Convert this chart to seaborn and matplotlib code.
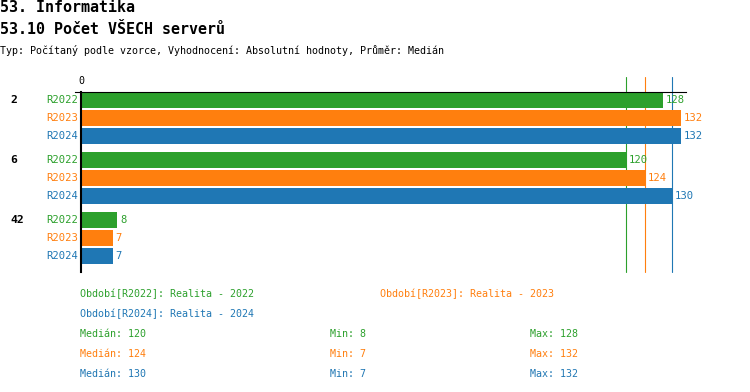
import numpy as np
import pandas as pd
import matplotlib
matplotlib.use("Agg")
import matplotlib.pyplot as plt
import matplotlib.transforms as mtransforms
import seaborn as sns

# data
groups = ["2", "6", "42"]
series = ["R2022", "R2023", "R2024"]
values_r2022 = [128, 120, 8]
values_r2023 = [132, 124, 7]
values_r2024 = [132, 130, 7]
period_names = ["Realita - 2022", "Realita - 2023", "Realita - 2024"]
colors = ["#2ca02c", "#ff7f0e", "#1f77b4"]

title1 = "53. Informatika"
title2 = "53.10 Počet VŠECH serverů"
subtitle = "Typ: Počítaný podle vzorce, Vyhodnocení: Absolutní hodnoty, Průměr: Medián"

sns.set_style("white")
plt.rcParams["font.family"] = ["DejaVu Sans Mono"]
plt.rcParams["text.color"] = "black"
plt.rcParams["xtick.color"] = "black"

W, H = 750, 392
FS = 7.2

df = pd.DataFrame({
    "group": groups * 3,
    "series": [s for s in series for _ in groups],
    "value": values_r2022 + values_r2023 + values_r2024,
})
all_vals = [values_r2022, values_r2023, values_r2024]

fig = plt.figure(figsize=(W / 100, H / 100), dpi=100)
ax = fig.add_axes([75 / W, (H - 272) / H, 611 / W, 180 / H])

sns.barplot(data=df, y="group", x="value", hue="series", orient="h",
            palette=colors, order=groups, hue_order=series, width=0.9,
            gap=0.11, errorbar=None, legend=False, ax=ax, saturation=1,
            linewidth=0)

vmax = df["value"].max()
xs = 600 / vmax
ax.set_xlim(-6 / xs, vmax + 5 / xs)
ax.set_ylim(len(groups) - 0.433, -0.433)

for sp in ["right", "bottom"]:
    ax.spines[sp].set_visible(False)
ax.spines["top"].set_color("black")
ax.spines["top"].set_linewidth(0.8)
ax.spines["left"].set_position(("data", 0))
ax.spines["left"].set_color("black")
ax.spines["left"].set_linewidth(1.5)

ax.xaxis.tick_top()
ax.set_xticks([0])
ax.set_xticklabels(["0"], fontsize=FS)
ax.tick_params(axis="x", length=0, pad=4)
ax.set_yticks([])
ax.set_xlabel("")
ax.set_ylabel("")

# median lines
for vals, c in zip(all_vals, colors):
    ax.axvline(np.median(vals), ymin=0, ymax=1 + 15 / 180, color=c,
               linewidth=0.8, clip_on=False, zorder=0)

# value labels and row labels
lab_tr = mtransforms.blended_transform_factory(fig.transFigure, ax.transData)
for i, (cont, s, c) in enumerate(zip(ax.containers, series, colors)):
    ax.bar_label(cont, fmt="%g", padding=2, color=c, fontsize=7.6)
    for j, p in enumerate(cont.patches):
        yc = p.get_y() + p.get_height() / 2
        ax.text(78 / W, yc, s, transform=lab_tr, ha="right", va="center",
                color=c, fontsize=7.6)
        if i == 0:
            ax.text(10 / W, yc, groups[j], transform=lab_tr, ha="left",
                    va="center", color="black", fontsize=8.2, fontweight="bold")

# titles
fig.text(0, 1 - 8 / H, title1, fontsize=10.8, fontweight="bold", va="center")
fig.text(0, 1 - 29 / H, title2, fontsize=10.8, fontweight="bold", va="center")
fig.text(0, 1 - 50 / H, subtitle, fontsize=FS, va="center")

# legend of periods
leg_pos = [(80, 294), (380, 294), (80, 314)]
for (x, y), s, name, c in zip(leg_pos, series, period_names, colors):
    fig.text(x / W, 1 - y / H, f"Období[{s}]: {name}", color=c,
             fontsize=FS, va="center")

# summary stats
for k, (vals, c) in enumerate(zip(all_vals, colors)):
    y = 1 - (334 + 20 * k) / H
    fig.text(80 / W, y, f"Medián: {np.median(vals):g}", color=c, fontsize=FS, va="center")
    fig.text(330 / W, y, f"Min: {min(vals)}", color=c, fontsize=FS, va="center")
    fig.text(530 / W, y, f"Max: {max(vals)}", color=c, fontsize=FS, va="center")

fig.savefig("out.png", dpi=100)
